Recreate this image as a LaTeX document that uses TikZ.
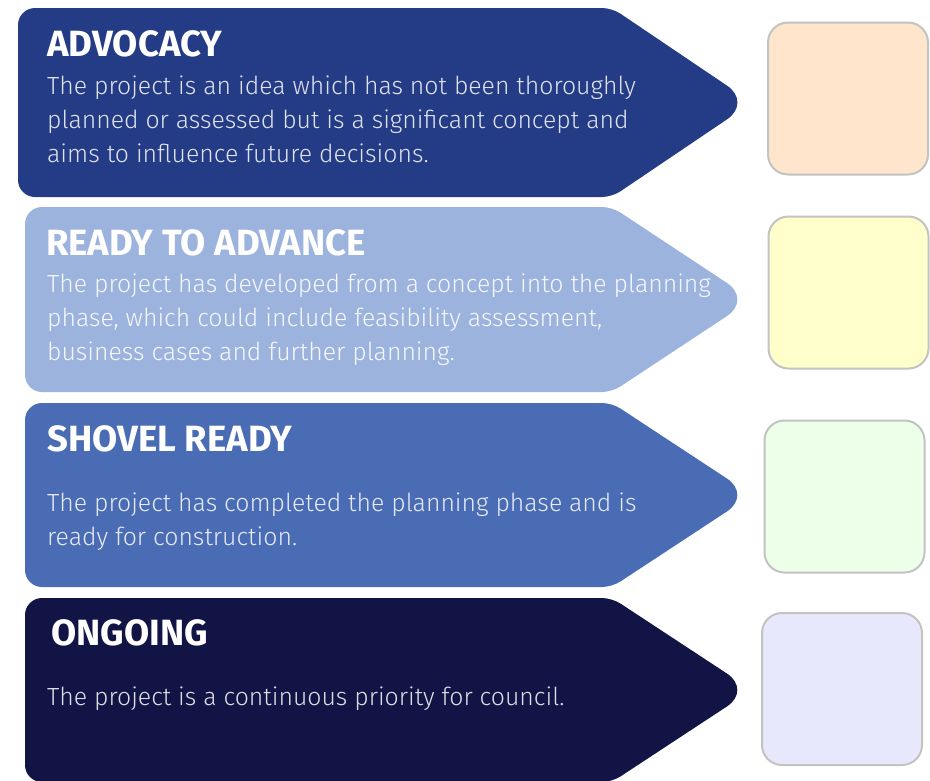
\documentclass[tikz,border=0pt]{standalone}
\usepackage{fontspec}
\setmainfont{Fira Sans}
\newfontfamily\lightfont{Fira Sans Light}
\usetikzlibrary{positioning}
\definecolor{stgnavy}{HTML}{243B85}
\definecolor{stgsky}{HTML}{9CB3DE}
\definecolor{stgblue}{HTML}{4A6CB5}
\definecolor{stgink}{HTML}{131446}
\definecolor{swpeach}{HTML}{FFE5CC}
\definecolor{swlemon}{HTML}{FFFFCC}
\definecolor{swmint}{HTML}{EEFFE9}
\definecolor{swlilac}{HTML}{E8E8FC}
\definecolor{swgray}{HTML}{C3C3C3}

% arrow shaped stage band: colour, left, top, bottom
\newcommand\stageband[4]{%
  \pgfmathsetmacro\stmid{(#3+#4)/2}
  \fill[#1] (#2,\stmid) [rounded corners=17pt] -- (#2,#3) [rounded corners=10pt] -- (612,#3)
    [rounded corners=30pt] -- (752,\stmid) [rounded corners=10pt] -- (612,#4)
    [rounded corners=17pt] -- (#2,#4) -- cycle;}

\begin{document}
\begin{tikzpicture}[x=1pt,y=-1pt,
  title/.style={anchor=base west,inner sep=0pt,text=white,font=\fontsize{36.5}{40}\selectfont\bfseries},
  body/.style={anchor=base west,inner sep=0pt,align=left,text=white!86!stgnavy,font=\lightfont\fontsize{24.8}{34}\selectfont},
  swatch/.style={draw=swgray,line width=2pt,rounded corners=20pt,minimum width=160pt,minimum height=152pt}]
  \useasboundingbox (0,0) rectangle (930,780);
  \clip (0,0) rectangle (930,780);
  \fill[white] (0,0) rectangle (930,780);
  % stage bands
  \stageband{stgnavy}{18}{8}{197}
  \stageband{stgsky}{25}{207}{392}
  \stageband{stgblue}{25}{403}{587}
  \stageband{stgink}{25}{598}{782}
  % texts (body nodes sit on their last baseline)
  \node[title] (advocacy) at (47,56) {ADVOCACY};
  \node[body] (advocacytxt) at (47,162) {The project is an idea which has not been thoroughly\\
    planned or assessed but is a significant concept and\\aims to influence future decisions.};
  \node[title] (ready) at (46,255) {READY TO ADVANCE};
  \node[body,text=white!90!stgsky] (readytxt) at (47,360) {The project has developed from a concept into the planning\\
    phase, which could include feasibility assessment,\\business cases and further planning.};
  \node[title] (shovel) at (47,451) {SHOVEL READY};
  \node[body,text=white!86!stgblue] (shoveltxt) at (47,545) {The project has completed the planning phase and is\\
    ready for construction.};
  \node[title] (ongoing) at (51,645) {ONGOING};
  \node[body,text=white!86!stgink] (ongoingtxt) at (47,705) {The project is a continuous priority for council.};
  % colour swatches
  \node[swatch,fill=swpeach] (swadvocacy) at (848,98.5) {};
  \node[swatch,fill=swlemon] (swready) at (848.5,292.5) {};
  \node[swatch,fill=swmint] (swshovel) at (844.5,496.5) {};
  \node[swatch,fill=swlilac] (swongoing) at (842,689) {};
\end{tikzpicture}
\end{document}
